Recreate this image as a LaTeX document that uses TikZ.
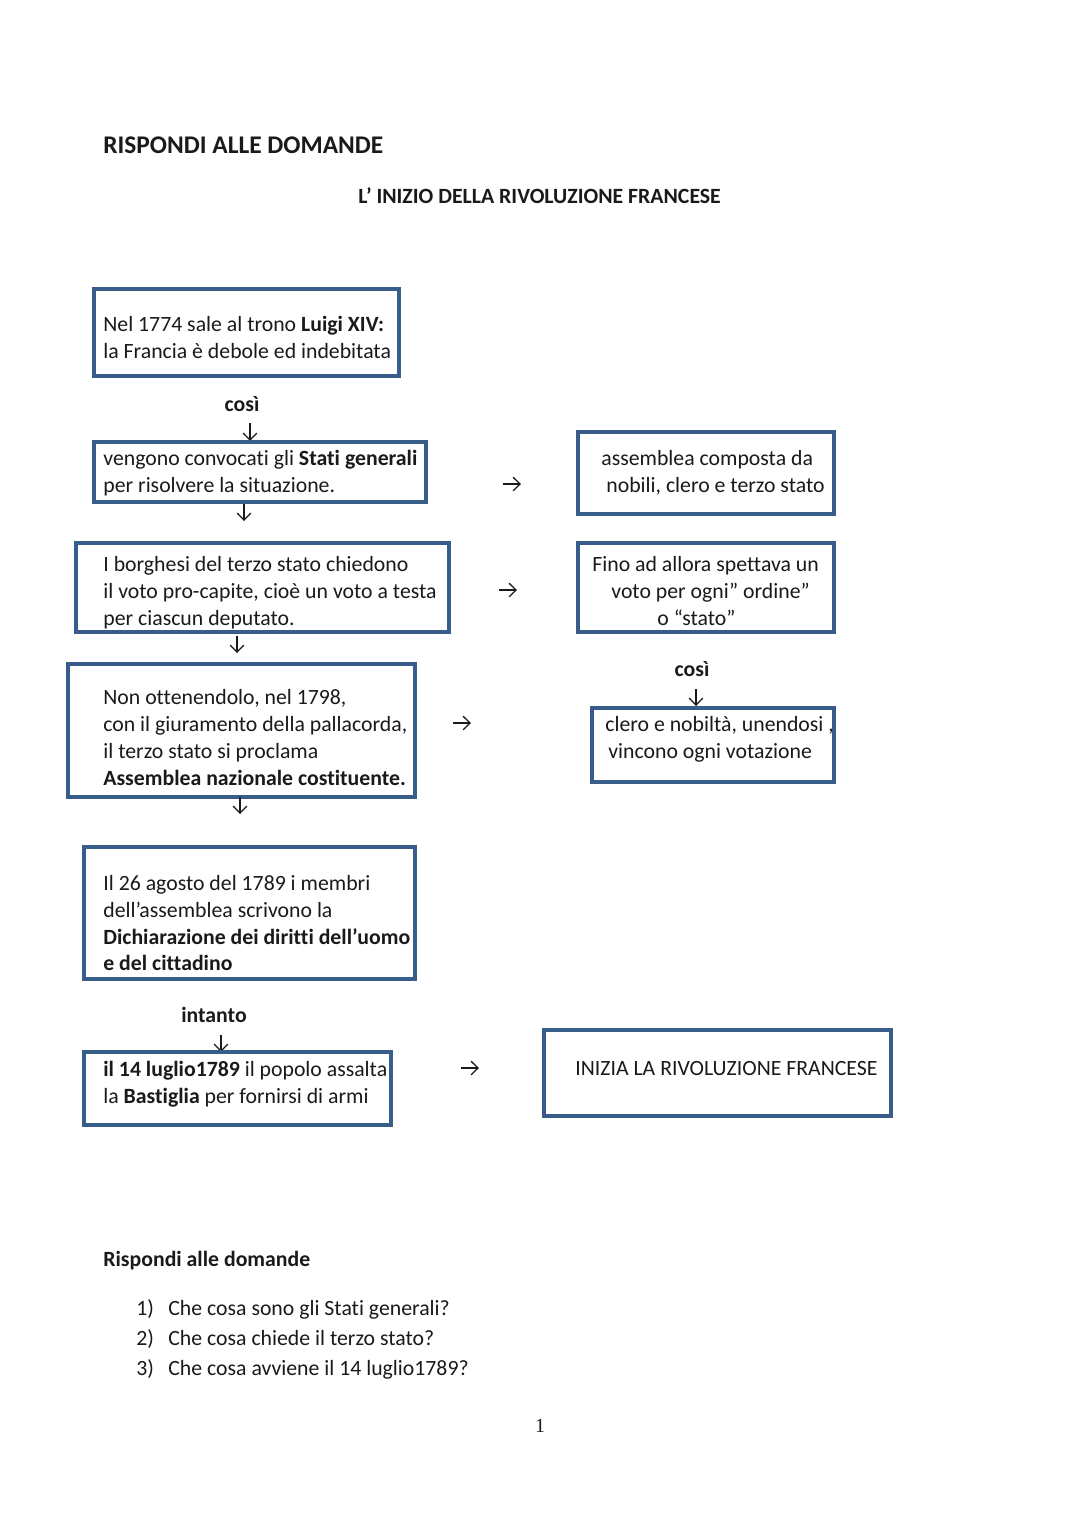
\documentclass[tikz,border=0pt]{standalone}
\usepackage{fontspec}
\setmainfont{Carlito}[Ligatures={NoCommon,NoContextual,NoRequired,NoRare},Contextuals={NoAlternate}]
\newfontfamily\pagenumfont{Liberation Serif}
\usetikzlibrary{arrows.meta,fit}
\definecolor{boxblue}{HTML}{385D8A}
\definecolor{ink}{HTML}{1A1A1A}
\tikzset{
  box/.style={draw=boxblue, line width=1.9pt, inner sep=0pt},
  txt/.style={inner sep=0pt, text=ink, font=\fontsize{12pt}{14.6pt}\selectfont, anchor=base west},
  ctxt/.style={txt, anchor=base},
  arr/.style={-{Straight Barb[length=3.8pt,width=7.5pt]}, line width=0.75pt, draw=ink},
}
\begin{document}
\begin{tikzpicture}[x=0.55119pt, y=-0.55119pt]
\useasboundingbox[fill=white] (0,0) rectangle (1080,1527);

% titles
\node[txt, font=\fontsize{14pt}{17pt}\selectfont\bfseries] (title) at (103,153) {RISPONDI ALLE DOMANDE};
\node[txt, font=\fontsize{12pt}{14.6pt}\selectfont\bfseries] (subtitle) at (358,203) {L’ INIZIO DELLA RIVOLUZIONE FRANCESE};

% box 1
\node[box, fit={(94,289) (399,376)}] (b1) {};
\node[txt] (b1a) at (103,331) {Nel 1774 sale al trono \textbf{Luigi XIV:}};
\node[txt] (b1b) at (103,358) {la Francia è debole ed indebitata};

\node[ctxt, font=\fontsize{12pt}{14.6pt}\selectfont\bfseries] (cosi1) at (242,411) {così};
\coordinate (d1s) at (250,423); \coordinate (d1e) at (250,441);
\draw[arr] (d1s) -- (d1e);

% box 2
\node[box, fit={(94,442) (426,502)}] (b2) {};
\node[txt] (b2a) at (103,465) {vengono convocati gli \textbf{Stati generali}};
\node[txt] (b2b) at (103,492) {per risolvere la situazione.};

\coordinate (d2s) at (244,504); \coordinate (d2e) at (244,521);
\draw[arr] (d2s) -- (d2e);
\coordinate (r1s) at (503,484); \coordinate (r1e) at (521,484);
\draw[arr] (r1s) -- (r1e);

% box 3
\node[box, fit={(578,432) (834,514)}] (b3) {};
\node[txt] (b3a) at (601,465) {assemblea composta da};
\node[txt] (b3b) at (606,492) {nobili, clero e terzo stato};

% box 4
\node[box, fit={(76,543) (449,632)}] (b4) {};
\node[txt] (b4a) at (103,571) {I borghesi del terzo stato chiedono};
\node[txt] (b4b) at (103,598) {il voto pro-capite, cioè un voto a testa};
\node[txt] (b4c) at (103,625) {per ciascun deputato.};

\coordinate (r2s) at (499,590); \coordinate (r2e) at (517,590);
\draw[arr] (r2s) -- (r2e);
\coordinate (d3s) at (237,636); \coordinate (d3e) at (237,653);
\draw[arr] (d3s) -- (d3e);

% box 5
\node[box, fit={(578,543) (834,632)}] (b5) {};
\node[txt] (b5a) at (592,571) {Fino ad allora spettava un};
\node[txt] (b5b) at (611,598) {voto per ogni” ordine”};
\node[txt] (b5c) at (657,625) {o “stato”};

\node[ctxt, font=\fontsize{12pt}{14.6pt}\selectfont\bfseries] (cosi2) at (692,676) {così};
\coordinate (d4s) at (696,689); \coordinate (d4e) at (696,706);
\draw[arr] (d4s) -- (d4e);

% box 6
\node[box, fit={(592,708) (834,782)}] (b6) {};
\node[txt] (b6a) at (605,731) {clero e nobiltà, unendosi ,};
\node[txt] (b6b) at (608,758) {vincono ogni votazione};

% box 7
\node[box, fit={(68,664) (415,797)}] (b7) {};
\node[txt] (b7a) at (103,704) {Non ottenendolo, nel 1798,};
\node[txt] (b7b) at (103,731) {con il giuramento della pallacorda,};
\node[txt] (b7c) at (103,758) {il terzo stato si proclama};
\node[txt] (b7d) at (103,785) {\textbf{Assemblea nazionale costituente.}};

\coordinate (r3s) at (453,723); \coordinate (r3e) at (471,723);
\draw[arr] (r3s) -- (r3e);
\coordinate (d5s) at (240,797); \coordinate (d5e) at (240,814);
\draw[arr] (d5s) -- (d5e);

% box 8
\node[box, fit={(84,847) (415,979)}] (b8) {};
\node[txt] (b8a) at (103,890) {Il 26 agosto del 1789 i membri};
\node[txt] (b8b) at (103,917) {dell’assemblea scrivono la};
\node[txt] (b8c) at (103,944) {\textbf{Dichiarazione dei diritti dell’uomo}};
\node[txt] (b8d) at (103,970) {\textbf{e del cittadino}};

\node[ctxt, font=\fontsize{12pt}{14.6pt}\selectfont\bfseries] (intanto) at (214,1022) {intanto};
\coordinate (d6s) at (221,1035); \coordinate (d6e) at (221,1052);
\draw[arr] (d6s) -- (d6e);

% box 9
\node[box, fit={(84,1052) (391,1125)}] (b9) {};
\node[txt] (b9a) at (103,1076) {\textbf{il 14 luglio1789} il popolo assalta};
\node[txt] (b9b) at (103,1103) {la \textbf{Bastiglia} per fornirsi di armi};

\coordinate (r4s) at (461,1068); \coordinate (r4e) at (479,1068);
\draw[arr] (r4s) -- (r4e);

% box 10
\node[box, fit={(544,1030) (891,1116)}] (b10) {};
\node[txt] (b10a) at (575,1075) {INIZIA LA RIVOLUZIONE FRANCESE};

% questions
\node[txt, font=\fontsize{12pt}{14.6pt}\selectfont\bfseries] (qtitle) at (103,1266) {Rispondi alle domande};
\node[txt] (q1n) at (136,1315) {1)};
\node[txt] (q1) at (168,1315) {Che cosa sono gli Stati generali?};
\node[txt] (q2n) at (136,1345) {2)};
\node[txt] (q2) at (168,1345) {Che cosa chiede il terzo stato?};
\node[txt] (q3n) at (136,1375) {3)};
\node[txt] (q3) at (168,1375) {Che cosa avviene il 14 luglio1789?};

\node[ctxt, font=\fontsize{11pt}{13pt}\selectfont\pagenumfont] (pnum) at (540,1432) {1};
\end{tikzpicture}
\end{document}
